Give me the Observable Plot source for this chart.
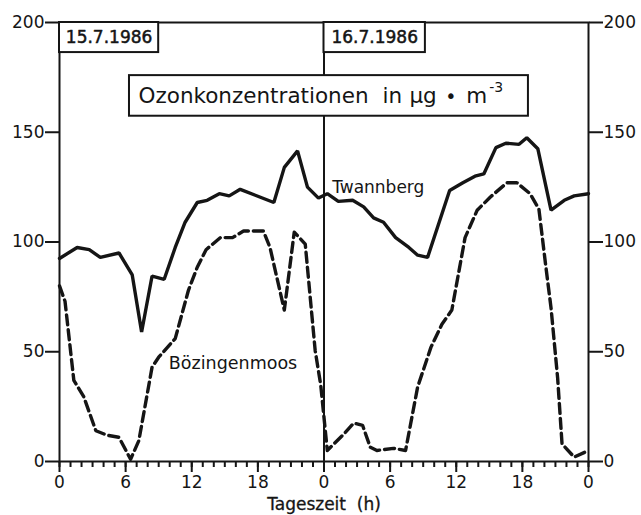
<!DOCTYPE html>
<html><head><meta charset="utf-8">
<script src="https://cdn.jsdelivr.net/npm/d3@7"></script>
<script src="https://cdn.jsdelivr.net/npm/@observablehq/plot@0.6"></script>
<style>body{margin:0;background:#fff}</style>
</head><body><div id="chart"></div>
<script>
// Twannberg (solid), hours since 15.7.1986 00:00
const twannHours  = [0, 1.6, 2.7, 3.7, 5.4, 6.6, 7.45, 8.4, 9.5, 10.5, 11.4, 12.5, 13.4, 14.5, 15.4, 16.4, 19.45, 20.4, 21.6, 22.5, 23.5, 24.3, 25.3, 26.6, 27.6, 28.5, 29.4, 30.5, 31.7, 32.5, 33.4, 35.4, 36.6, 37.7, 38.5, 39.6, 40.5, 41.7, 42.4, 43.4, 44.6, 45.8, 46.7, 48];
const twannValues = [92.5, 97.5, 96.5, 93, 95, 85, 59, 84.5, 83, 97.5, 109, 118, 119, 122, 121, 124, 118, 134, 141.5, 125, 120, 122, 118.5, 119, 116, 111, 109, 102, 97.5, 94, 93, 123.5, 127, 130, 131, 143, 145, 144.5, 147.5, 142.5, 114.5, 119, 121, 122];
// Bözingenmoos (dashed)
const boezHours  = [0, 0.5, 1.3, 2.2, 3.3, 4.3, 5.4, 6.45, 7.2, 8.4, 9.0, 10.5, 11.7, 12.5, 13.3, 14.6, 15.7, 16.7, 18.5, 19.1, 20.4, 21.3, 22.3, 23.2, 23.7, 24.3, 25.8, 26.7, 27.5, 28.2, 28.8, 30.3, 31.4, 32.5, 33.7, 34.7, 35.6, 36.2, 36.8, 37.9, 39.1, 40.6, 41.5, 42.7, 43.5, 44.1, 44.6, 45.2, 45.6, 46.7, 48];
const boezValues = [80, 73, 37, 29.5, 14, 12, 11, 1, 9.5, 43, 47.5, 56, 78, 88.5, 96.5, 102, 102, 105, 105, 97.5, 69, 104.5, 99, 50.5, 35, 5, 12.5, 17.5, 16.5, 6.5, 5, 6, 5, 34, 52, 62.5, 69, 85.5, 102, 114.5, 120.5, 127, 127, 122, 115, 90, 70, 38, 8, 2, 5];

const yTicks = [0, 50, 100, 150, 200];
const xMajorTicks = [0, 6, 12, 18, 24, 30, 36, 42, 48];
const xMinorTicks = d3.range(0, 49);
const dateLabels = ["15.7.1986", "16.7.1986"];
const seriesNames = ["Twannberg", "Bözingenmoos"];
const xTitle = "Tageszeit  (h)";
const titleWords = ["Ozonkonzentrationen", "in", "µg", "•", "m"];
const titleSup = "-3";

const twann = twannHours.map((h, i) => ({h, v: twannValues[i]}));
const boez = boezHours.map((h, i) => ({h, v: boezValues[i]}));

const ink = "#151515";
const dateBoxes = [
  {x1: 0, x2: 9, y1: 186.3, y2: 200, cx: 4.5, label: dateLabels[0]},
  {x1: 24, x2: 33.2, y1: 186.3, y2: 200, cx: 28.6, label: dateLabels[1]}
];
const titleBox = [{x1: 6.35, x2: 42.55, y1: 157.3, y2: 175.8}];
const titlePieces = [
  {t: titleWords[0], h: 7.17, size: 21.5},
  {t: titleWords[1], h: 29.3, size: 21.5},
  {t: titleWords[2], h: 31.75, size: 21.5},
  {t: titleWords[3], h: 35.0, size: 19},
  {t: titleWords[4], h: 36.9, size: 21.5}
];

const chart = Plot.plot({
  width: 641, height: 515,
  marginLeft: 59, marginRight: 53, marginTop: 22, marginBottom: 54,
  x: {domain: [0, 48]},
  y: {domain: [0, 200]},
  style: {fontFamily: "DejaVu Sans", fontSize: "17px", color: ink, background: "#fff"},
  marks: [
    Plot.frame({stroke: ink, strokeWidth: 2}),
    Plot.ruleX([24], {stroke: ink, strokeWidth: 2}),
    Plot.line(twann, {x: "h", y: "v", stroke: ink, strokeWidth: 3.4, strokeLinejoin: "miter"}),
    Plot.line(boez, {x: "h", y: "v", stroke: ink, strokeWidth: 3.4, strokeDasharray: "10,5"}),
    Plot.rect(dateBoxes, {x1: "x1", x2: "x2", y1: "y1", y2: "y2", fill: "#fff", stroke: ink, strokeWidth: 2}),
    Plot.text(dateBoxes, {x: "cx", y: 193.2, text: "label", fontSize: 17, letterSpacing: -0.8, fill: ink, stroke: ink, strokeWidth: 0.5}),
    Plot.rect(titleBox, {x1: "x1", x2: "x2", y1: "y1", y2: "y2", fill: "#fff", stroke: ink, strokeWidth: 2}),
    Plot.text(titlePieces, {x: "h", y: 163.2, text: "t", fontSize: "size", textAnchor: "start", lineAnchor: "bottom", fill: ink}),
    Plot.text([titleSup], {x: 39.0, y: 168.3, text: d => d, fontSize: 14, textAnchor: "start", lineAnchor: "bottom", fill: ink}),
    Plot.text([seriesNames[0]], {x: 24.74, y: 122.2, text: d => d, fontSize: 17, textAnchor: "start", lineAnchor: "bottom", fill: ink}),
    Plot.text([seriesNames[1]], {x: 9.92, y: 42.2, text: d => d, fontSize: 17.5, textAnchor: "start", lineAnchor: "bottom", fill: ink}),
    Plot.text([xTitle], {x: 24, frameAnchor: "bottom", dy: 48, text: d => d, fontSize: 17, lineAnchor: "bottom", fill: ink, stroke: ink, strokeWidth: 0.3}),
    Plot.axisY({anchor: "left", ticks: yTicks, tickSize: 14, tickPadding: 1, strokeWidth: 2, label: null, fontSize: 17}),
    Plot.axisY({anchor: "right", ticks: yTicks, tickSize: 14, tickPadding: 1, strokeWidth: 2, label: null, fontSize: 17}),
    Plot.axisX({ticks: xMinorTicks, tickSize: 6, tickFormat: () => "", strokeWidth: 2, label: null}),
    Plot.axisX({ticks: xMajorTicks, tickSize: 11, tickPadding: 3, tickFormat: d => String(d % 24), strokeWidth: 2, label: null, fontSize: 17})
  ]
});
document.getElementById("chart").appendChild(chart);
</script>
</body></html>
